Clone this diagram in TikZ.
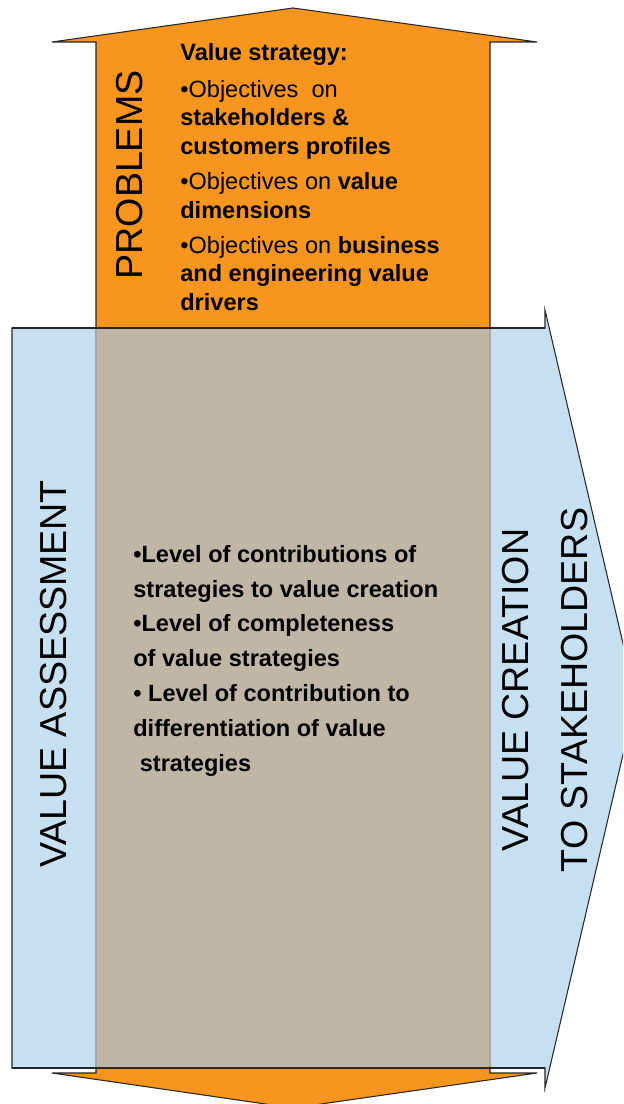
\documentclass[tikz,border=0pt]{standalone}
\usepackage{fontspec}
\setmainfont{Liberation Sans}
\usepackage{tikz}
\usetikzlibrary{positioning}

\definecolor{probOrange}{RGB}{247,149,30}
\definecolor{creatBlue}{RGB}{198,224,242}
\definecolor{overBrown}{RGB}{191,182,165}

\begin{document}
\begin{tikzpicture}[x=0.02cm, y=-0.02cm,
    outline/.style={draw=black!85, line width=0.6pt},
    seeline/.style={draw=black!35, line width=0.6pt},
    biglabel/.style={font=\fontsize{21.4}{34}\selectfont, rotate=90, align=center, inner sep=0pt},
    topblock/.style={font=\fontsize{13.4}{16.4}\selectfont, align=left, anchor=north west, inner sep=0pt},
    midblock/.style={font=\bfseries\fontsize{13.4}{19.8}\selectfont, align=left, anchor=north west, inner sep=0pt}
]
\useasboundingbox (0,0) rectangle (623,1104);
\clip (0,0) rectangle (623,1104);

\filldraw[outline, fill=creatBlue] (12,328) -- (545,328) -- (545,310) -- (636,699) -- (545,1088) -- (545,1068) -- (12,1068) -- cycle;
\filldraw[outline, fill=probOrange] (96,42) -- (52,42) -- (293,8) -- (537,42) -- (490,42) -- (490,1073) -- (537,1073) -- (293,1108) -- (52,1073) -- (96,1073) -- cycle;
\fill[overBrown] (96,328) rectangle (490,1068);
\draw[seeline] (96,328) -- (96,1068);
\draw[seeline] (490,328) -- (490,1068);
\draw[outline] (12,328) -- (545,328);
\draw[outline] (12,1068) -- (545,1068);

\node[biglabel] (problems) at (130,175) {PROBLEMS};
\node[biglabel] (assessment) at (54,674) {VALUE ASSESSMENT};
\node[biglabel] (creation) at (545,690) {VALUE CREATION\\TO STAKEHOLDERS};

\node[topblock] (strategy) at (180,43) {\textbf{Value strategy:}\\[4.5pt]
•Objectives\ \ on\\
\textbf{stakeholders \&}\\
\textbf{customers profiles}\\[3.4pt]
•Objectives on \textbf{value}\\
\textbf{dimensions}\\[3.4pt]
•Objectives on \textbf{business}\\
\textbf{and engineering value}\\
\textbf{drivers}};

\node[midblock] (levels) at (133,545) {•Level of contributions of\\
strategies to value creation\\
•Level of completeness\\
of value strategies\\
• Level of contribution to\\
differentiation of value\\
\ strategies};
\end{tikzpicture}
\end{document}
